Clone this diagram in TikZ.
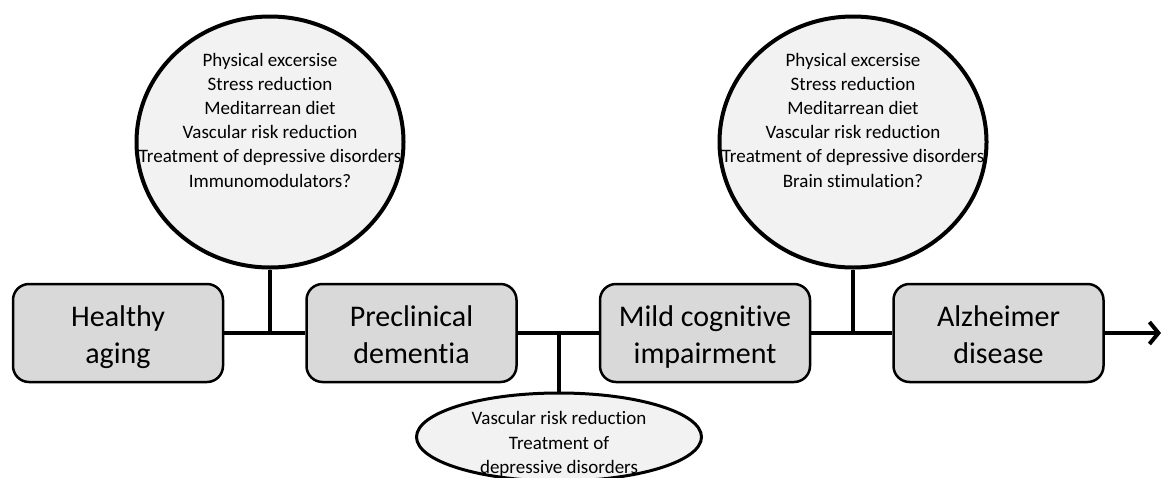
\documentclass[tikz,border=0pt]{standalone}
\usepackage{fontspec}
\setmainfont{Carlito}[Ligatures=NoCommon]
\usetikzlibrary{positioning,arrows.meta,shapes.geometric}
\definecolor{stagegray}{RGB}{217,217,217}
\definecolor{bubblegray}{RGB}{242,242,242}

\begin{document}
\begin{tikzpicture}[x=1pt,y=1pt,>={Straight Barb[length=9pt,width=22pt]},node distance=81pt,
  stage/.style={draw,line width=2.5pt,fill=stagegray,rounded corners=16pt,minimum width=210pt,minimum height=98pt,align=center,font=\fontsize{30}{37}\selectfont,text height=72pt,text depth=11pt},
  bubble/.style={draw,ellipse,line width=4pt,fill=bubblegray,inner sep=0pt},
  tips/.style={align=center,font=\fontsize{19}{24.2}\selectfont},
  link/.style={line width=4pt}]
\useasboundingbox (0,0) rectangle (1164,-477);
% stages along the time line
\node[stage] (healthy) at (118,-333) {Healthy\\aging};
\node[stage,right=of healthy] (precl) {Preclinical\\dementia};
\node[stage,right=of precl] (mci) {Mild cognitive\\impairment};
\node[stage,right=of mci] (ad) {Alzheimer\\disease};
\coordinate (tend) at (1161,-333);
% interventions
\node[bubble,minimum width=267pt,minimum height=251pt] (tips1) at (270,-142) {};
\node[tips] (tips1txt) at ([yshift=22pt]tips1.center) {Physical excersise\\Stress reduction\\Meditarrean diet\\Vascular risk reduction\\Treatment of depressive disorders\\Immunomodulators?};
\node[bubble,minimum width=267pt,minimum height=251pt] (tips2) at (853,-142) {};
\node[tips] (tips2txt) at ([yshift=22pt]tips2.center) {Physical excersise\\Stress reduction\\Meditarrean diet\\Vascular risk reduction\\Treatment of depressive disorders\\Brain stimulation?};
\node[bubble,line width=3pt,minimum width=285pt,minimum height=88pt] (later) at (559,-437) {};
\node[tips] (latertxt) at ([yshift=-7pt]later.center) {Vascular risk reduction\\Treatment of\\depressive disorders};
% connectors
\draw[link] (healthy) -- (precl);
\draw[link] (precl) -- (mci);
\draw[link] (mci) -- (ad);
\draw[link,->] (ad) -- (tend);
\draw[link] (tips1.south) -- (tips1.south |- healthy.east);
\draw[link] (tips2.south) -- (tips2.south |- mci.east);
\draw[link] (later.north) -- (later.north |- precl.east);
\end{tikzpicture}
\end{document}
